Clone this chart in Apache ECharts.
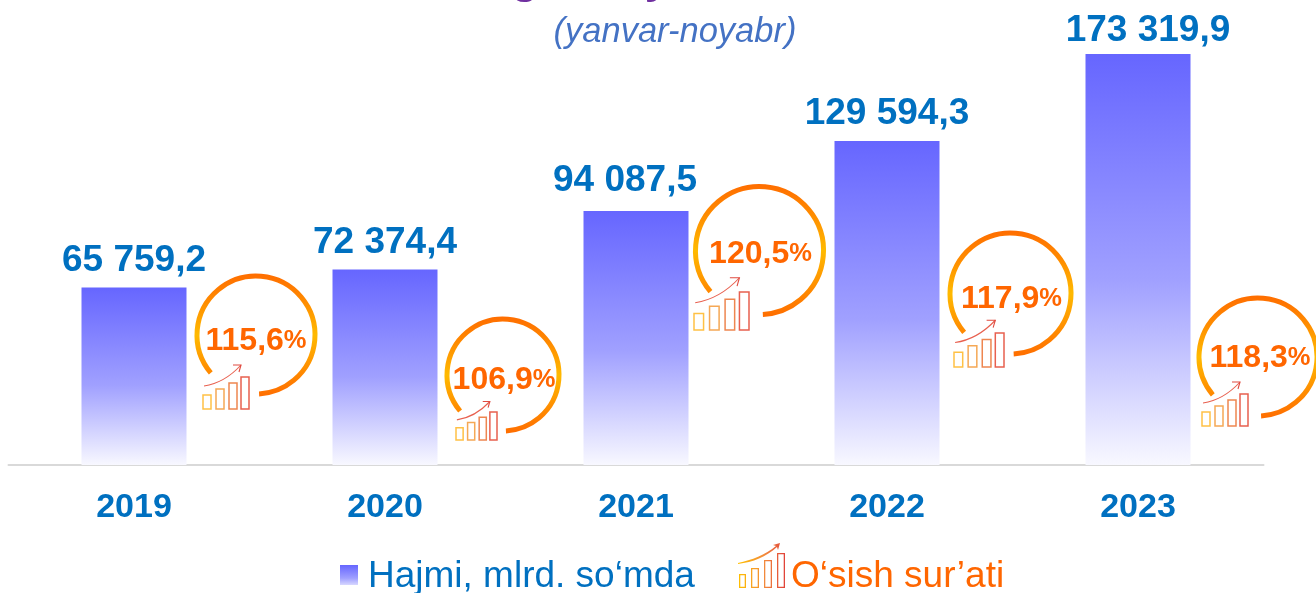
<!DOCTYPE html>
<html><head><meta charset="utf-8">
<style>html,body{margin:0;padding:0;background:#fff}#c{width:1316px;height:593px}</style>
<script src="https://cdn.jsdelivr.net/npm/echarts@6/dist/echarts.min.js"></script>
</head><body><div id="c"></div>
<script>
const years = ['2019','2020','2021','2022','2023'];
const volume = [65759.2, 72374.4, 94087.5, 129594.3, 173319.9];
const growth = [115.6, 106.9, 120.5, 117.9, 118.3];
const volumeName = 'Hajmi, mlrd. so\u2018mda';
const growthName = 'O\u2018sish sur\u2019ati';
const subtitle = '(yanvar-noyabr)';

// Layout only (pixels): badge circle, caption centre, icon box; value label nudges.
const badgeLayout = [
  {cx:256, cy:335, r:59, tx:256, ty:341, ix:203, ib:409, iw:46, ih:32},
  {cx:503, cy:375, r:56, tx:504, ty:380, ix:456, ib:440, iw:41, ih:28},
  {cx:759.5, cy:250.5, r:64, tx:760.5, ty:254, ix:694, ib:330, iw:55, ih:38},
  {cx:1010.5, cy:293.5, r:60.5, tx:1011.5, ty:299, ix:954, ib:367, iw:50, ih:34},
  {cx:1258, cy:357, r:59, tx:1260, ty:358, ix:1202, ib:426, iw:46, ih:32}
];
const labelNudge = [[0,7],[0,7],[-11,3],[0,6],[10,10]];

const F = 'Liberation Sans';
const blue = '#0070C0', orange = '#FF6600';
const barFill = () => new echarts.graphic.LinearGradient(0,0,0,1,[
  {offset:0,color:'#6666FF'},{offset:0.55,color:'#A0A0FF'},{offset:1,color:'#F8F8FF'}]);
const iconFill = () => new echarts.graphic.LinearGradient(0,0,1,0,[
  {offset:0,color:'#FFC000'},{offset:0.55,color:'#F28A3C'},{offset:1,color:'#E0403A'}]);
const arcStroke = () => new echarts.graphic.LinearGradient(0,0,0,1,[
  {offset:0,color:'#FF6D00'},{offset:0.22,color:'#FF8A00'},{offset:0.5,color:'#FFBA00'},{offset:0.8,color:'#FF8A00'},{offset:1,color:'#FF6D00'}]);

function holRect(x,y,w,h,t){
  return `M${x} ${y}L${x+w} ${y}L${x+w} ${y+h}L${x} ${y+h}Z`+
    `M${x+t} ${y+t}L${x+t} ${y+h-t}L${x+w-t} ${y+h-t}L${x+w-t} ${y+t}Z`;
}
const legendIcon = 'path://'+holRect(1,31,7,14,1.3)
  +holRect(13,25,8,20,1.3)+holRect(26,17,8,28,1.3)+holRect(39,10,8,35,1.3)
  +'M0 20C14 17 27 12 38 3L35 2L42 0L40 7L39 4C28 14 15 19 0 21Z'
  +'M47.9 68L48 68L48 67.9Z';
const legendSquare = 'path://M0 0L18 0L18 20L0 20ZM17.9 24L18 24L18 23.9Z';

function renderBadge(params, api){
  const i = api.value(0), L = badgeLayout[i];
  const sx = L.iw/46, sy = L.ih/32;
  const px = x => L.ix + x*sx, py = y => L.ib - y*sy;
  const bars = [[0,14,'#FFC145'],[13,20,'#F5A855'],[26,26,'#EE8650'],[38,32,'#E8604F']];
  const kids = [{
    type:'arc', silent:true,
    shape:{cx:L.cx,cy:L.cy,r:L.r,startAngle:140*Math.PI/180,endAngle:(360+87)*Math.PI/180,clockwise:true},
    style:{fill:null,stroke:arcStroke(),lineWidth:5,lineCap:'butt'}
  }];
  bars.forEach(b=>{
    kids.push({type:'rect',silent:true,
      shape:{x:px(b[0]),y:py(b[1]),width:8*sx,height:b[1]*sy},
      style:{fill:'rgba(255,255,255,0)',stroke:b[2],lineWidth:1.5}});
  });
  kids.push({type:'bezierCurve',silent:true,
    shape:{x1:px(1),y1:py(23),x2:px(38),y2:py(44),cpx1:px(14),cpy1:py(25),cpx2:px(27),cpy2:py(32)},
    style:{fill:null,stroke:'#E8604F',lineWidth:1.1}});
  kids.push({type:'polyline',silent:true,
    shape:{points:[[px(30),py(44)],[px(38),py(44)],[px(36),py(37)]]},
    style:{fill:null,stroke:'#E04B40',lineWidth:1.1}});
  const txt = growth[i].toFixed(1).replace('.',',');
  kids.push({type:'text',silent:true,
    x:L.tx,y:L.ty,
    style:{text:`{n|${txt}}{p|%}`,align:'center',verticalAlign:'middle',
      rich:{n:{fontFamily:F,fontWeight:'bold',fontSize:32,fill:orange,color:orange},
            p:{fontFamily:F,fontWeight:'bold',fontSize:25.5,fill:orange,color:orange}}}});
  return {type:'group',children:kids};
}

const chart = echarts.init(document.getElementById('c'),null,{renderer:'canvas'});
chart.setOption({
  animation:false,
  backgroundColor:'#fff',
  title:{text:subtitle,left:675,top:15,textAlign:'center',
    textStyle:{fontFamily:F,fontStyle:'italic',fontWeight:'normal',fontSize:34.5,color:'#4472C4'},padding:0},
  graphic:[
    {type:'text',x:525,y:-41,style:{text:'g',fontFamily:F,fontWeight:'bold',fontSize:44,fill:'#7030A0',textAlign:'center'},silent:true},
    {type:'text',x:657,y:-41,style:{text:'y',fontFamily:F,fontWeight:'bold',fontSize:44,fill:'#7030A0',textAlign:'center'},silent:true}
  ],
  legend:[
    {left:340,top:558.5,padding:0,itemWidth:18,itemHeight:24,itemGap:0,selectedMode:false,
     data:[{name:volumeName,icon:legendSquare,itemStyle:{color:barFill()}}],
     textStyle:{fontFamily:F,fontSize:37,color:blue,padding:[0,0,0,5]}},
    {left:738,top:543,padding:0,itemWidth:48,itemHeight:68,itemGap:0,selectedMode:false,
     data:[{name:growthName,icon:legendIcon,itemStyle:{color:iconFill()}}],
     textStyle:{fontFamily:F,fontSize:37,color:orange,padding:[0,0,0,0]}}
  ],
  grid:{left:8.5,width:1255,top:54,height:411,containLabel:false},
  xAxis:{type:'category',data:years,
    axisLine:{show:true,onZero:false,lineStyle:{color:'#D9D9D9',width:2}},
    axisTick:{show:false},
    axisLabel:{fontFamily:F,fontWeight:'bold',fontSize:34,color:blue,margin:26}},
  yAxis:{type:'value',min:0,max:173319.9,show:false,splitLine:{show:false},
    // The source bars are not drawn to one scale: its upper bars are compressed.
    breaks:[{start:100000,end:109594,gap:0},{start:150000,end:161504,gap:0}],
    breakArea:{show:false}},
  series:[
    {name:volumeName,type:'bar',barWidth:105,z:2,
     data:volume.map((v,i)=>({value:v,label:{offset:labelNudge[i]}})),
     itemStyle:{color:barFill()},
     label:{show:true,position:'top',distance:15,fontFamily:F,fontWeight:'bold',fontSize:37,color:blue,
       formatter:p=>p.value.toFixed(1).replace('.',',').replace(/\B(?=(\d{3})+(?!\d))/g,' ')}},
    {name:growthName,type:'custom',z:5,coordinateSystem:'none',clip:false,
     renderItem:renderBadge,
     encode:{value:1},
     data:growth.map((v,i)=>[i,v]),
     itemStyle:{color:iconFill()}}
  ]
});
</script></body></html>
